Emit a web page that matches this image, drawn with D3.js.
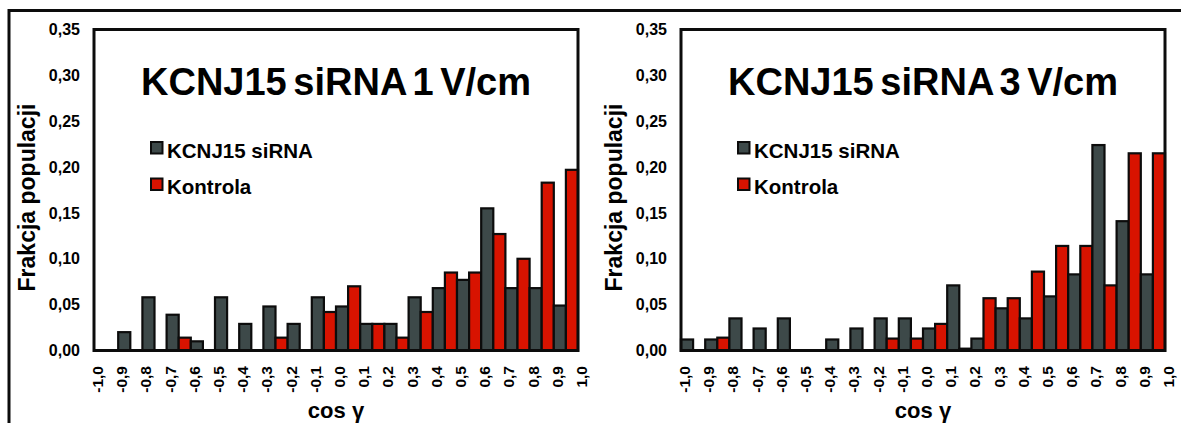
<!DOCTYPE html>
<html>
<head>
<meta charset="utf-8">
<script src="https://cdn.jsdelivr.net/npm/d3@7"></script>
<style>
  html, body { margin: 0; padding: 0; background: #fff; }
  svg { display: block; }
  text { font-family: "Liberation Sans", Arial, sans-serif; font-weight: bold; fill: #000; }
</style>
</head>
<body>
<svg id="chart" width="1181" height="423"></svg>
<script>
// ---------- data ----------
const binStarts = [-1.0,-0.9,-0.8,-0.7,-0.6,-0.5,-0.4,-0.3,-0.2,-0.1,0.0,0.1,0.2,0.3,0.4,0.5,0.6,0.7,0.8,0.9];
const xTickValues = [-1.0,-0.9,-0.8,-0.7,-0.6,-0.5,-0.4,-0.3,-0.2,-0.1,0.0,0.1,0.2,0.3,0.4,0.5,0.6,0.7,0.8,0.9,1.0];
const yTickValues = [0, 0.05, 0.10, 0.15, 0.20, 0.25, 0.30, 0.35];
const seriesNames = ["KCNJ15 siRNA", "Kontrola"];

const siRNA_1V    = [0, 0.020, 0.058, 0.039, 0.010, 0.058, 0.029, 0.048, 0.029, 0.058, 0.048, 0.029, 0.029, 0.058, 0.068, 0.077, 0.155, 0.068, 0.068, 0.049];
const kontrola_1V = [0, 0,     0,     0.014, 0,     0,     0,     0.014, 0,     0.042, 0.070, 0.029, 0.014, 0.042, 0.085, 0.085, 0.127, 0.100, 0.183, 0.197];

const siRNA_3V    = [0.012, 0.012, 0.035, 0.024, 0.035, 0, 0.012, 0.024, 0.035, 0.035, 0.024, 0.071, 0.013, 0.046, 0.035, 0.059, 0.083, 0.224, 0.141, 0.083];
const kontrola_3V = [0,     0.014, 0,     0,     0,     0, 0,     0,     0.013, 0.013, 0.029, 0.002, 0.057, 0.057, 0.086, 0.114, 0.114, 0.071, 0.215, 0.215];

const titles = ["KCNJ15 siRNA 1 V/cm", "KCNJ15 siRNA 3 V/cm"];
const yTitle = "Frakcja populacji";
const xTitle = "cos γ";

// ---------- styling ----------
const colors = ["#3d4949", "#d81300"];
const ink = "#0c0c0c";
const fmt = v => d3.format(".2f")(v).replace(".", ",").replace("\u2212", "-");
const fmt1 = v => d3.format(".1f")(v).replace(".", ",").replace("\u2212", "-");

const svg = d3.select("#chart");

// outer frame
svg.append("path")
  .attr("d", "M9,423 V10.5 H1181")
  .attr("fill", "none").attr("stroke", ink).attr("stroke-width", 3);

const panels = [
  { x0: 94,  title: titles[0], data: [siRNA_1V, kontrola_1V] },
  { x0: 681, title: titles[1], data: [siRNA_3V, kontrola_3V] }
];
const plotW = 484, yTop = 29.5, yBase = 350.5;

panels.forEach(p => {
  const g = svg.append("g");
  const x0 = p.x0, x1 = p.x0 + plotW;
  const xBand = d3.scaleBand().domain(binStarts).range([x0, x1]).padding(0);
  const xSub = d3.scaleBand().domain(seriesNames).range([0, xBand.bandwidth()]).padding(0);
  const xLin = d3.scaleLinear().domain([-1, 1]).range([x0, x1]);
  const y = d3.scaleLinear().domain([0, 0.35]).range([yBase, yTop]);

  // bars
  const rows = binStarts.map((b, i) => ({ b, vals: seriesNames.map((s, k) => ({ s, k, v: p.data[k][i] })) }));
  const grp = g.selectAll("g.bin").data(rows).join("g")
    .attr("transform", d => `translate(${xBand(d.b)},0)`);
  grp.selectAll("rect").data(d => d.vals.filter(e => e.v > 0)).join("rect")
    .attr("x", d => xSub(d.s))
    .attr("width", xSub.bandwidth())
    .attr("y", d => y(d.v))
    .attr("height", d => yBase - y(d.v))
    .attr("fill", d => colors[d.k])
    .attr("stroke", ink).attr("stroke-width", 2.2);

  // plot frame
  g.append("rect")
    .attr("x", x0).attr("y", yTop).attr("width", plotW).attr("height", yBase - yTop)
    .attr("fill", "none").attr("stroke", ink).attr("stroke-width", 3);

  // y tick labels
  g.selectAll("text.ytick").data(yTickValues).join("text")
    .attr("class", "ytick")
    .attr("x", x0 - 14).attr("y", d => y(d)).attr("dy", "0.35em")
    .attr("text-anchor", "end").style("font-size", "16px")
    .text(fmt);

  // x tick labels (rotated)
  g.selectAll("text.xtick").data(xTickValues).join("text")
    .attr("class", "xtick")
    .attr("transform", d => `translate(${xLin(d) + 3.5},366) rotate(-90)`)
    .attr("dy", "0.35em")
    .attr("text-anchor", "end").style("font-size", "15.5px")
    .text(fmt1);

  // title
  g.append("text")
    .attr("x", (x0 + x1) / 2).attr("y", 95)
    .attr("text-anchor", "middle")
    .style("font-size", "38px").style("word-spacing", "-4px")
    .text(p.title);

  // legend
  seriesNames.forEach((s, k) => {
    const ly = 142 + k * 36.5;
    g.append("rect")
      .attr("x", x0 + 57).attr("y", ly).attr("width", 11.5).attr("height", 11.5)
      .attr("fill", colors[k]).attr("stroke", ink).attr("stroke-width", 2);
    g.append("text")
      .attr("x", x0 + 73).attr("y", ly + 15.5)
      .style("font-size", "20.5px")
      .text(s);
  });

  // axis titles
  g.append("text")
    .attr("transform", `translate(${x0 - 59},197.5) rotate(-90)`)
    .attr("text-anchor", "middle").style("font-size", "23px")
    .text(yTitle);
  g.append("text")
    .attr("x", (x0 + x1) / 2).attr("y", 418)
    .attr("text-anchor", "middle").style("font-size", "22px")
    .text(xTitle);
});
</script>
</body>
</html>
